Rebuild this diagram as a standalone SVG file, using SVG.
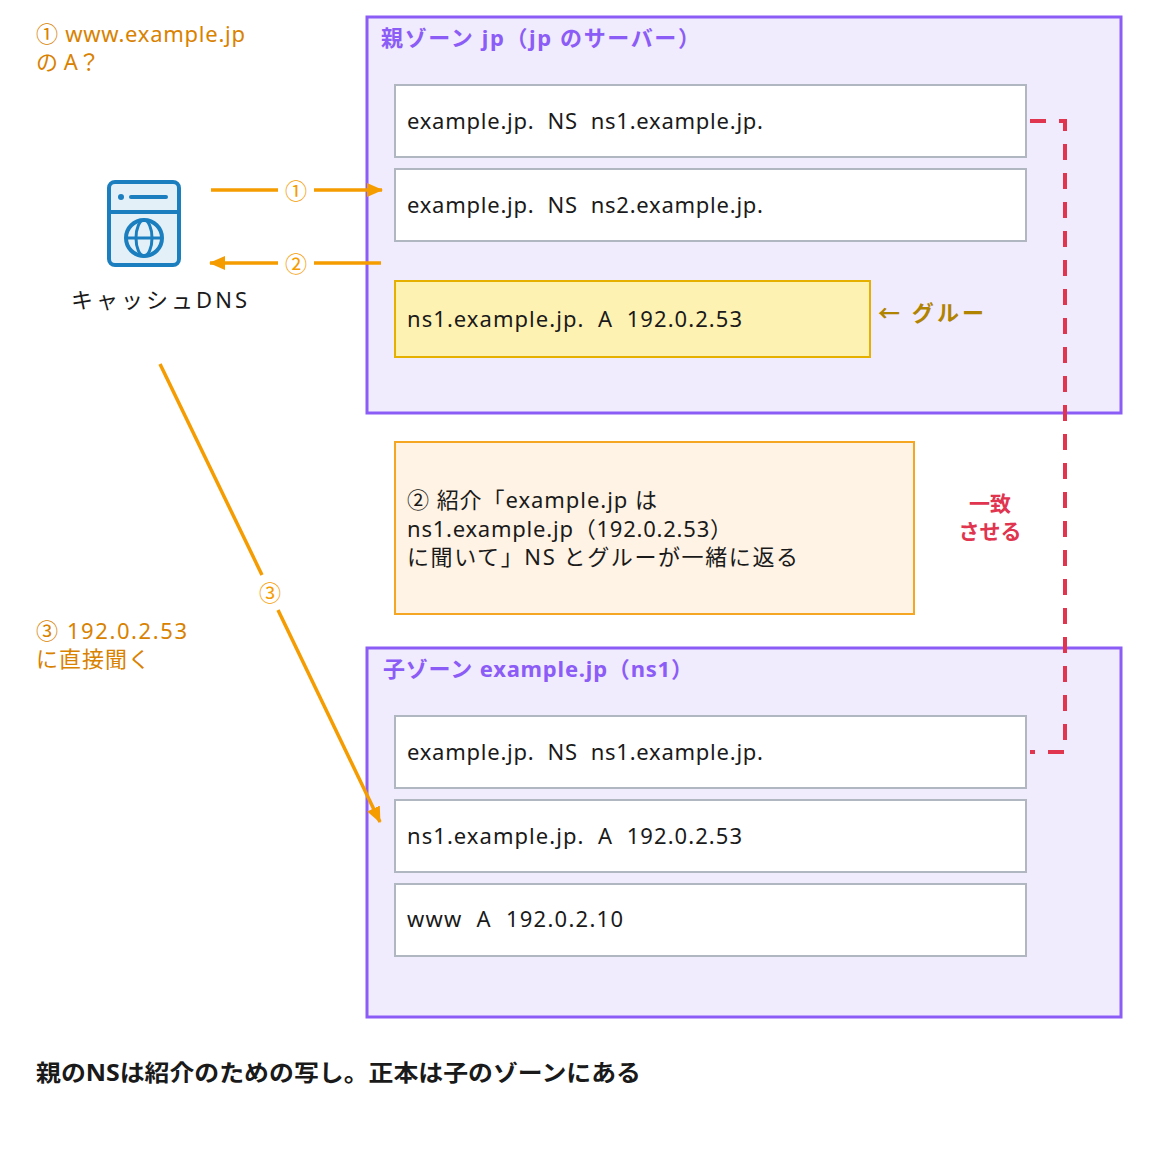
<svg xmlns="http://www.w3.org/2000/svg" width="1153" height="1149" viewBox="0 0 1153 1149" xml:space="preserve">
<style>
text{font-family:"Noto Sans","Noto Sans CJK JP",sans-serif;white-space:pre}
.zone{fill:#f1ebfe;stroke:#8b5cf6;stroke-width:3}
.zt{fill:#8b5cf6;font-size:22px;font-weight:bold}
.rec{fill:#fff;stroke:#b0b7c0;stroke-width:2}
.rt{fill:#1a1a1a;font-size:22px}
.or{fill:#d98200;font-size:22px}
.arr{stroke:#f59c00;stroke-width:3.5;fill:none}
.al{fill:#f59c00;font-size:22px;text-anchor:middle}
</style>
<defs>
<marker id="ah" markerWidth="16" markerHeight="14" refX="15" refY="7" orient="auto" markerUnits="userSpaceOnUse" viewBox="0 0 16 14"><path d="M0,0 L16,7 L0,14 z" fill="#f59c00"/></marker>
</defs>
<rect width="1153" height="1149" fill="#fff"/>
<g id="q1"><text class="or" x="36" y="42" textLength="209">① www.example.jp</text><text class="or" x="36" y="70" textLength="64">の A？</text></g>
<g id="cache">
<rect x="109" y="182" width="70" height="83" rx="6" fill="#e3f0f8" stroke="#1b7fbf" stroke-width="4"/>
<line x1="109" y1="212" x2="179" y2="212" stroke="#1b7fbf" stroke-width="4"/>
<circle cx="121" cy="197" r="3" fill="#1b7fbf"/><line x1="131" y1="197" x2="166" y2="197" stroke="#1b7fbf" stroke-width="4" stroke-linecap="round"/>
<circle cx="144" cy="238" r="18" fill="none" stroke="#1b7fbf" stroke-width="4"/>
<ellipse cx="144" cy="238" rx="8" ry="18" fill="none" stroke="#1b7fbf" stroke-width="3"/>
<line x1="126" y1="238" x2="162" y2="238" stroke="#1b7fbf" stroke-width="3"/>
<text x="71" y="308" font-size="22" fill="#1a1a1a" textLength="176">キャッシュDNS</text>
</g>
<g id="parent">
<rect class="zone" x="367" y="17" width="754" height="396"/>
<text class="zt" x="381" y="46" textLength="319">親ゾーン jp（jp のサーバー）</text>
<rect class="rec" x="395" y="85" width="631" height="72"/><text class="rt" x="407" y="129" textLength="356">example.jp.  NS  ns1.example.jp.</text>
<rect class="rec" x="395" y="169" width="631" height="72"/><text class="rt" x="407" y="213" textLength="356">example.jp.  NS  ns2.example.jp.</text>
<rect x="395" y="281" width="475" height="76" fill="#fef2b3" stroke="#e6b000" stroke-width="2"/><text class="rt" x="407" y="327" textLength="335">ns1.example.jp.  A  192.0.2.53</text>
<text x="878" y="321" font-size="22" font-weight="bold" fill="#b08300" textLength="106">← グルー</text>
</g>
<g id="note">
<rect x="395" y="442" width="519" height="172" fill="#fef3e4" stroke="#f5a623" stroke-width="2"/>
<text class="rt" x="407" y="508" textLength="250">② 紹介「example.jp は</text>
<text class="rt" x="407" y="537" textLength="325">ns1.example.jp（192.0.2.53）</text>
<text class="rt" x="407" y="565" textLength="391">に聞いて」NS とグルーが一緒に返る</text>
</g>
<g id="match"><text x="990" y="511" font-size="21" font-weight="bold" fill="#e0344f" text-anchor="middle">一致</text><text x="990" y="539" font-size="21" font-weight="bold" fill="#e0344f" text-anchor="middle">させる</text></g>
<g id="child">
<rect class="zone" x="367" y="648" width="754" height="369"/>
<text class="zt" x="383" y="677" textLength="310">子ゾーン example.jp（ns1）</text>
<rect class="rec" x="395" y="716" width="631" height="72"/><text class="rt" x="407" y="760" textLength="356">example.jp.  NS  ns1.example.jp.</text>
<rect class="rec" x="395" y="800" width="631" height="72"/><text class="rt" x="407" y="844" textLength="335">ns1.example.jp.  A  192.0.2.53</text>
<rect class="rec" x="395" y="884" width="631" height="72"/><text class="rt" x="407" y="927" textLength="216">www  A  192.0.2.10</text>
</g>
<g id="q3"><text class="or" x="36" y="639" textLength="151">③ 192.0.2.53</text><text class="or" x="36" y="667" textLength="114">に直接聞く</text></g>
<g id="connectors">
<path d="M1030,121 H1065 V752 H1030" fill="none" stroke="#e0344f" stroke-width="4" stroke-dasharray="16,13"/>
<line class="arr" x1="211" y1="190" x2="278" y2="190"/><line class="arr" x1="314" y1="190" x2="382" y2="190" marker-end="url(#ah)"/>
<text class="al" x="296" y="199">①</text>
<line class="arr" x1="381" y1="263" x2="314" y2="263"/><line class="arr" x1="278" y1="263" x2="210" y2="263" marker-end="url(#ah)"/>
<text class="al" x="296" y="272">②</text>
<line class="arr" x1="160" y1="364" x2="262" y2="575"/><line class="arr" x1="278" y1="610" x2="380" y2="822" marker-end="url(#ah)"/>
<text class="al" x="270" y="601">③</text>
</g>
<text x="36" y="1081" font-size="23" font-weight="bold" fill="#1a1a1a" textLength="605" lengthAdjust="spacingAndGlyphs">親のNSは紹介のための写し。正本は子のゾーンにある</text>
</svg>
